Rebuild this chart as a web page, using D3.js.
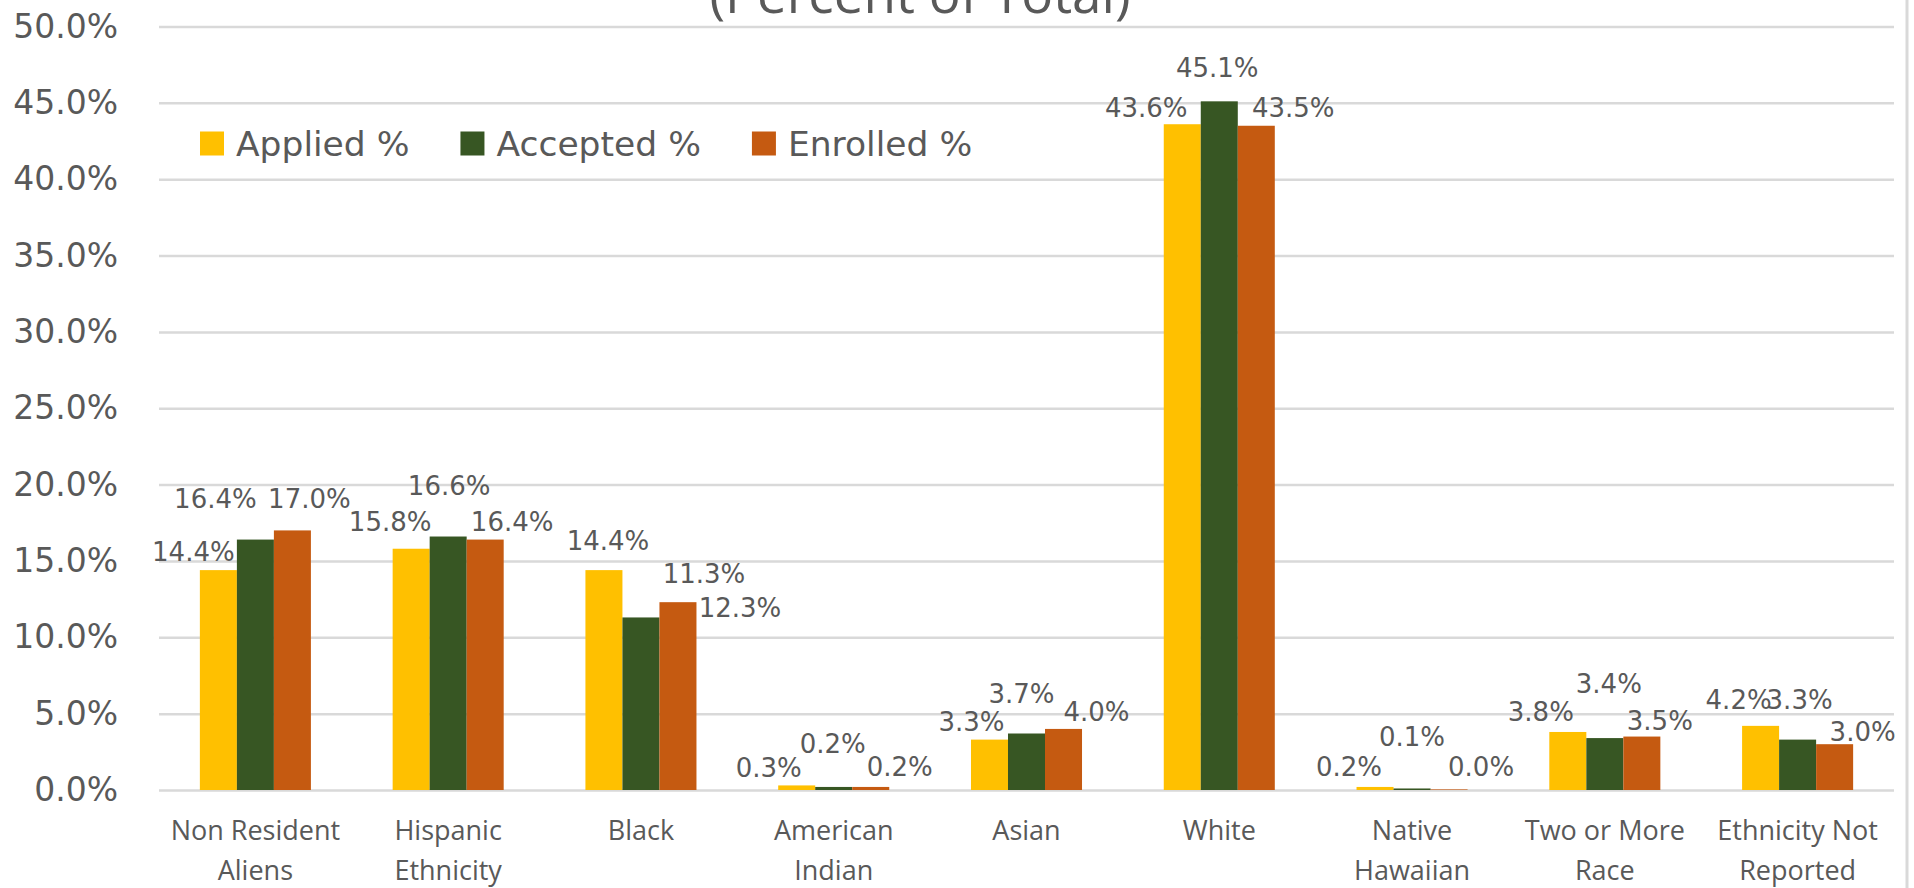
<!DOCTYPE html>
<html>
<head>
<meta charset="utf-8">
<script src="https://cdn.jsdelivr.net/npm/d3@7"></script>
<style>
  body { margin: 0; background: #fff; }
  svg { display: block; }
</style>
</head>
<body>
<div id="chart"></div>
<script>
// Chart values
const categories = [
  ['Non Resident', 'Aliens'],
  ['Hispanic', 'Ethnicity'],
  ['Black'],
  ['American', 'Indian'],
  ['Asian'],
  ['White'],
  ['Native', 'Hawaiian'],
  ['Two or More', 'Race'],
  ['Ethnicity Not', 'Reported']
];
const seriesNames = ['Applied %', 'Accepted %', 'Enrolled %'];
const applied  = [14.4, 15.8, 14.4, 0.3, 3.3, 43.6, 0.2, 3.8, 4.2];
const accepted = [16.4, 16.6, 11.3, 0.2, 3.7, 45.1, 0.1, 3.4, 3.3];
const enrolled = [17.0, 16.4, 12.3, 0.2, 4.0, 43.5, 0.04, 3.5, 3.0];
const yTicks = [0, 5, 10, 15, 20, 25, 30, 35, 40, 45, 50];
const title = '(Percent of Total)';

// label nudges (px) from the bar top, matching where the labels were dragged
const labelNudge = [
  [[-25, -18], [-40, -41], [17, -32]],
  [[-21, -27], [1, -51], [27, -18]],
  [[4, -29], [63, -44], [62, 5]],
  [[-28, -18], [-1, -43], [29, -20]],
  [[-18, -18], [-5, -40], [33, -17]],
  [[-36, -17], [-2, -34], [37, -18]],
  [[-26, -20], [0, -52], [32, -23]],
  [[-27, -20], [4, -54], [18, -16]],
  [[-22, -26], [2, -40], [28, -13]]
];

const W = 1914, H = 888;
const plotLeft = 159, plotRight = 1894, plotTop = 26.5, plotBottom = 790;
const colors = ['#FFC000', '#375623', '#C55A11'];
const textColor = '#595959';
const gridColor = '#D9D9D9';
const numFont = '"DejaVu Sans", sans-serif';
const catFont = '"Open Sans", sans-serif';

const series = [applied, accepted, enrolled];
const rows = categories.map((c, i) => ({
  i: i,
  lines: c,
  values: series.map((s, j) => ({ j: j, v: s[i] }))
}));

const svg = d3.select('#chart').append('svg')
  .attr('width', W)
  .attr('height', H);

const x0 = d3.scaleBand().domain(d3.range(categories.length))
  .range([plotLeft, plotRight]).paddingInner(0.424).paddingOuter(0.212);
const x1 = d3.scaleBand().domain(d3.range(series.length))
  .range([0, x0.bandwidth()]);
const y = d3.scaleLinear().domain([0, 50]).range([plotBottom, plotTop]);

// gridlines + y axis labels
const yAxis = d3.axisLeft(y)
  .tickValues(yTicks)
  .tickSize(-(plotRight - plotLeft))
  .tickPadding(41)
  .tickFormat(d => d.toFixed(1) + '%');

const yg = svg.append('g')
  .attr('transform', 'translate(' + plotLeft + ',0)')
  .call(yAxis);
yg.select('.domain').remove();
yg.selectAll('.tick line')
  .attr('stroke', gridColor)
  .attr('stroke-width', 2.5);
yg.selectAll('.tick text')
  .attr('fill', textColor)
  .attr('font-family', numFont)
  .attr('font-size', 33);

// right border of the chart area
svg.append('line')
  .attr('x1', 1907).attr('x2', 1907)
  .attr('y1', 0).attr('y2', H)
  .attr('stroke', gridColor)
  .attr('stroke-width', 3);

// title (cut off at the top, as in the original)
svg.append('text')
  .attr('x', 920)
  .attr('y', 13)
  .attr('text-anchor', 'middle')
  .attr('fill', textColor)
  .attr('font-family', catFont)
  .attr('font-size', 53)
  .text(title);

// bars
const groups = svg.append('g').selectAll('g')
  .data(rows).enter()
  .append('g')
  .attr('transform', d => 'translate(' + x0(d.i) + ',0)');

groups.selectAll('rect')
  .data(d => d.values).enter()
  .append('rect')
  .attr('x', d => x1(d.j))
  .attr('width', x1.bandwidth())
  .attr('y', d => y(d.v))
  .attr('height', d => y(0) - y(d.v))
  .attr('fill', d => colors[d.j]);

// data labels
groups.each(function(r) {
  d3.select(this).selectAll('.val')
    .data(r.values).enter()
    .append('text')
    .attr('class', 'val')
    .attr('x', d => x1(d.j) + x1.bandwidth() / 2 + labelNudge[r.i][d.j][0])
    .attr('y', d => y(d.v) + labelNudge[r.i][d.j][1])
    .attr('dy', '0.36em')
    .attr('text-anchor', 'middle')
    .attr('fill', textColor)
    .attr('font-family', numFont)
    .attr('font-size', 26)
    .text(d => d.v.toFixed(1) + '%');
});

// category labels
const cat = svg.append('g').selectAll('text')
  .data(rows).enter()
  .append('text')
  .attr('x', d => x0(d.i) + x0.bandwidth() / 2)
  .attr('y', 830)
  .attr('text-anchor', 'middle')
  .attr('fill', textColor)
  .attr('font-family', catFont)
  .attr('font-size', 27);
cat.selectAll('tspan')
  .data(d => d.lines.map(l => ({ l: l, x: x0(d.i) + x0.bandwidth() / 2 })))
  .enter().append('tspan')
  .attr('x', d => d.x)
  .attr('dy', (d, i) => i === 0 ? '0.36em' : 40)
  .text(d => d.l);

// legend
const legend = svg.append('g');
let lx = 200;
seriesNames.forEach((name, j) => {
  legend.append('rect')
    .attr('x', lx)
    .attr('y', 143.5 - 12)
    .attr('width', 24)
    .attr('height', 24)
    .attr('fill', colors[j]);
  const t = legend.append('text')
    .attr('x', lx + 36)
    .attr('y', 143.5)
    .attr('dy', '0.36em')
    .attr('fill', textColor)
    .attr('font-family', numFont)
    .attr('font-size', 34.5)
    .text(name);
  lx += 36 + t.node().getComputedTextLength() + 51;
});
</script>
</body>
</html>
